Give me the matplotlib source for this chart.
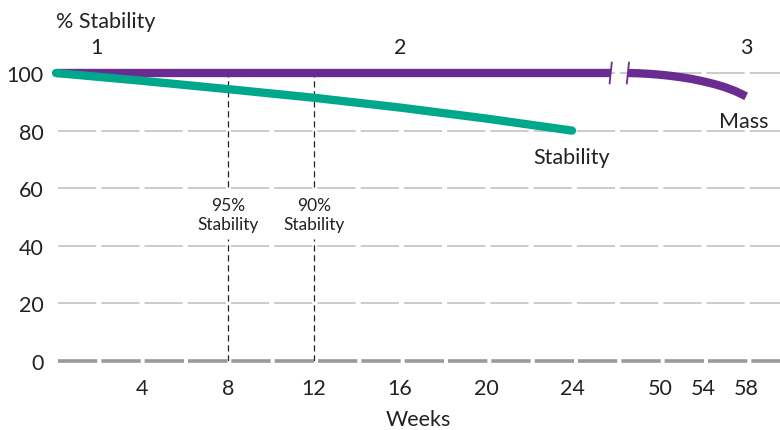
#!/usr/bin/env python
# -*- coding: utf-8 -*-
"""Stability vs mass over time, with a broken week axis."""

import numpy as np
import matplotlib
matplotlib.use("Agg")
import matplotlib.pyplot as plt

plt.rcParams['font.family'] = ['Lato', 'DejaVu Sans']

# data
stab_weeks = [0, 4, 8, 12, 16, 20, 24]
stab_values = [100, 97.3, 94.4, 91.4, 88.0, 84.2, 80.0]

mass_weeks_a = [0, 25.8]
mass_values_a = [100, 100]
mass_weeks_b = [47, 48, 49, 50, 51, 52, 53, 54, 55, 56, 57, 58]
mass_values_b = [100, 99.9, 99.7, 99.4, 99.0, 98.5, 97.9, 97.1, 96.2,
                 95.1, 93.7, 91.9]

x_ticks = [4, 8, 12, 16, 20, 24, 50, 54, 58]
y_ticks = [0, 20, 40, 60, 80, 100]
phase_labels = ['1', '2', '3']
phase_weeks = [1.9, 16, 58]
marker_weeks = [8, 12]
marker_labels = ['95%\nStability', '90%\nStability']

PURPLE = '#6b2c91'
GREEN = '#00a88b'
GRID = '#bdbdbd'
TEXT = '#222222'

# broken axis: weeks after the break are drawn at half scale
BREAK_START = 25.8
BREAK_END = 47
BREAK_POS = 26.6


def pos(w):
    w = np.asarray(w, dtype=float)
    return np.where(w <= BREAK_START, w, BREAK_POS + (w - BREAK_END) / 2.0)


fig = plt.figure(figsize=(7.8, 4.31), dpi=100)
ax = fig.add_axes([56 / 780, 69 / 431, 724 / 780, 288 / 431])
xmax = (780 - 56) / 21.5
ax.set_xlim(0, xmax)
ax.set_ylim(0, 100)

for s in ax.spines.values():
    s.set_visible(False)

# grid lines
for y in y_ticks[1:]:
    ax.plot([0.1, xmax], [y, y], color=GRID, lw=1.1, dashes=(25, 3.3),
            zorder=1, clip_on=False)
ax.plot([0.1, xmax], [0, 0], color='#999999', lw=2.6, dashes=(10.9, 1.1),
        zorder=1, clip_on=False)

# dashed markers at 95% / 90% stability
for w, lab in zip(marker_weeks, marker_labels):
    ax.vlines(pos(w), 60.5, 100, color='#222222', lw=0.9,
              linestyles=(0, (5, 3)), zorder=2)
    ax.vlines(pos(w), 0, 42.5, color='#222222', lw=0.9,
              linestyles=(0, (5, 3)), zorder=2)
    ax.text(pos(w), 50.8, lab, ha='center', va='center', fontsize=12.5,
            color=TEXT, linespacing=1.25)

# mass line (two pieces around the break)
ax.plot(pos(mass_weeks_a), mass_values_a, color=PURPLE, lw=6,
        solid_capstyle='butt', zorder=3, clip_on=False)
ax.plot(pos(mass_weeks_b), mass_values_b, color=PURPLE, lw=6,
        solid_capstyle='butt', solid_joinstyle='round', zorder=3,
        clip_on=False)

# break ticks
for p in [BREAK_START, BREAK_POS]:
    ax.plot([p - 0.05, p + 0.05], [96.4, 103.6], color=PURPLE, lw=1.3,
            zorder=4, clip_on=False)

# stability line
ax.plot(pos(stab_weeks), stab_values, color=GREEN, lw=6,
        solid_capstyle='round', zorder=5, clip_on=False)

ax.text(pos(24), 70.8, 'Stability', ha='center', va='center',
        fontsize=15.5, color=TEXT)
ax.text(pos(57.8), 83.5, 'Mass', ha='center', va='center',
        fontsize=15.5, color=TEXT)

# phase labels and axis title
for lab, w in zip(phase_labels, phase_weeks):
    ax.text(pos(w), 109, lab, ha='center', va='center', fontsize=15.5,
            color=TEXT, clip_on=False)
ax.text(0.0, 118, '% Stability', ha='left', va='center', fontsize=15.5,
        color=TEXT, clip_on=False)

ax.set_yticks(y_ticks)
ax.set_yticklabels([str(v) for v in y_ticks])
ax.set_xticks(pos(x_ticks))
ax.set_xticklabels([str(v) for v in x_ticks])
ax.tick_params(length=0, labelsize=15.5, colors=TEXT)
ax.tick_params(axis='y', pad=9)
ax.tick_params(axis='x', pad=12)
ax.set_xlabel('Weeks', fontsize=15.5, color=TEXT, labelpad=8)

fig.savefig('out.png', dpi=100)
